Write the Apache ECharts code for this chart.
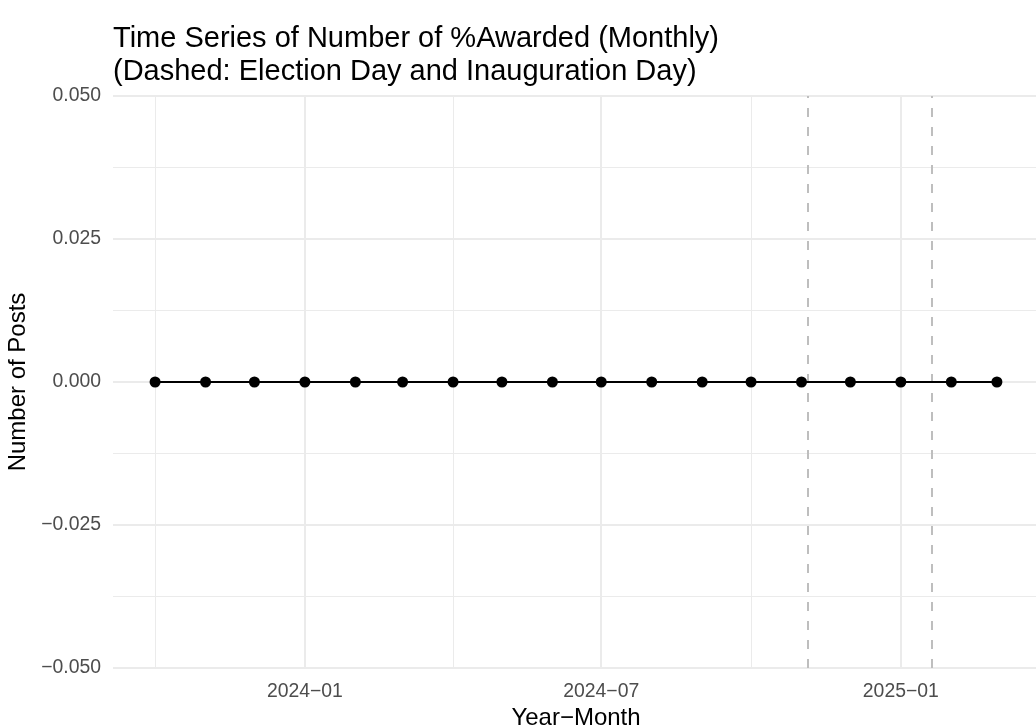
<!DOCTYPE html>
<html>
<head>
<meta charset="utf-8">
<script src="https://cdn.jsdelivr.net/npm/echarts@6/dist/echarts.min.js"></script>
<style>html,body{margin:0;padding:0;background:#fff}#c{width:1036px;height:728px}</style>
</head>
<body>
<div id="c"></div>
<script>
const months = ['2023-10','2023-11','2023-12','2024-01','2024-02','2024-03','2024-04','2024-05','2024-06','2024-07','2024-08','2024-09','2024-10','2024-11','2024-12','2025-01','2025-02','2025-03'];
const postCounts = [0,0,0,0,0,0,0,0,0,0,0,0,0,0,0,0,0,0];
const eventDates = ['2024-11-05','2025-01-20'];
const xMajorTicks = ['2024-01-01','2024-07-01','2025-01-01'];
const xMinorTicks = ['2023-10-01','2024-04-01','2024-10-01'];
const yTicks = [-0.05,-0.025,0,0.025,0.05];

const ts = s => { const p = s.split('-').map(Number); return Date.UTC(p[0], p[1]-1, p[2] || 1); };
const first = ts(months[0]), last = ts(months[months.length-1]);
const span = last - first;
const FONT = '"Liberation Sans", Arial, Helvetica, sans-serif';

const chart = echarts.init(document.getElementById('c'), null, {renderer:'canvas'});
chart.setOption({
  animation: false,
  backgroundColor: '#ffffff',
  title: {
    text: 'Time Series of Number of %Awarded (Monthly)\n(Dashed: Election Day and Inauguration Day)',
    left: 113, top: 22, padding: 0,
    textStyle: {fontFamily: FONT, fontSize: 29, fontWeight: 'normal', color: '#000', lineHeight: 33}
  },
  grid: {left: 113, top: 96, width: 926, height: 572, containLabel: false, outerBoundsMode: 'none'},
  xAxis: {
    type: 'value',
    min: first - 0.05 * span,
    max: last + 0.05 * span,
    name: 'Year\u2212Month',
    nameLocation: 'middle',
    nameGap: 34,
    nameTextStyle: {fontFamily: FONT, fontSize: 24, color: '#000'},
    axisLine: {show: false},
    axisTick: {show: false, customValues: xMajorTicks.map(ts)},
    axisLabel: {
      customValues: xMajorTicks.map(ts),
      margin: 14,
      fontFamily: FONT, fontSize: 19.4, color: '#4D4D4D',
      formatter: v => { const d = new Date(v); return d.getUTCFullYear() + '\u2212' + String(d.getUTCMonth()+1).padStart(2,'0'); }
    },
    splitLine: {show: true, lineStyle: {color: '#EBEBEB', width: 2}}
  },
  yAxis: {
    type: 'value',
    min: yTicks[0], max: yTicks[yTicks.length-1], interval: 0.025,
    name: 'Number of Posts',
    nameLocation: 'middle',
    nameGap: 81,
    nameTextStyle: {fontFamily: FONT, fontSize: 24, color: '#000'},
    axisLine: {show: false},
    axisTick: {show: false},
    minorTick: {show: false, splitNumber: 2},
    minorSplitLine: {show: true, lineStyle: {color: '#EBEBEB', width: 1}},
    axisLabel: {
      margin: 12,
      fontFamily: FONT, fontSize: 19.4, color: '#4D4D4D',
      formatter: v => Math.abs(v) < 1e-9 ? '0.000' : v.toFixed(3).replace('-', '\u2212')
    },
    splitLine: {show: true, lineStyle: {color: '#EBEBEB', width: 2}}
  },
  series: [
    {
      type: 'line',
      name: 'grid',
      data: [],
      z: 1,
      silent: true,
      markLine: {
        silent: true, symbol: 'none', z: 1, animation: false,
        label: {show: false},
        lineStyle: {color: '#EBEBEB', width: 1, type: 'solid'},
        data: xMinorTicks.map(d => ({xAxis: ts(d)}))
      }
    },
    {
      type: 'line',
      name: 'events',
      data: [],
      z: 2,
      silent: true,
      markLine: {
        silent: true, symbol: 'none', z: 2, animation: false,
        label: {show: false},
        lineStyle: {color: '#BEBEBE', width: 2, type: [9, 10]},
        data: eventDates.map(d => ({xAxis: ts(d)}))
      }
    },
    {
      type: 'line',
      name: 'Posts',
      z: 5,
      data: months.map((m, i) => [ts(m), postCounts[i]]),
      symbol: 'circle',
      symbolSize: 11,
      showSymbol: true,
      lineStyle: {color: '#000', width: 2},
      itemStyle: {color: '#000'}
    }
  ]
});
</script>
</body>
</html>
